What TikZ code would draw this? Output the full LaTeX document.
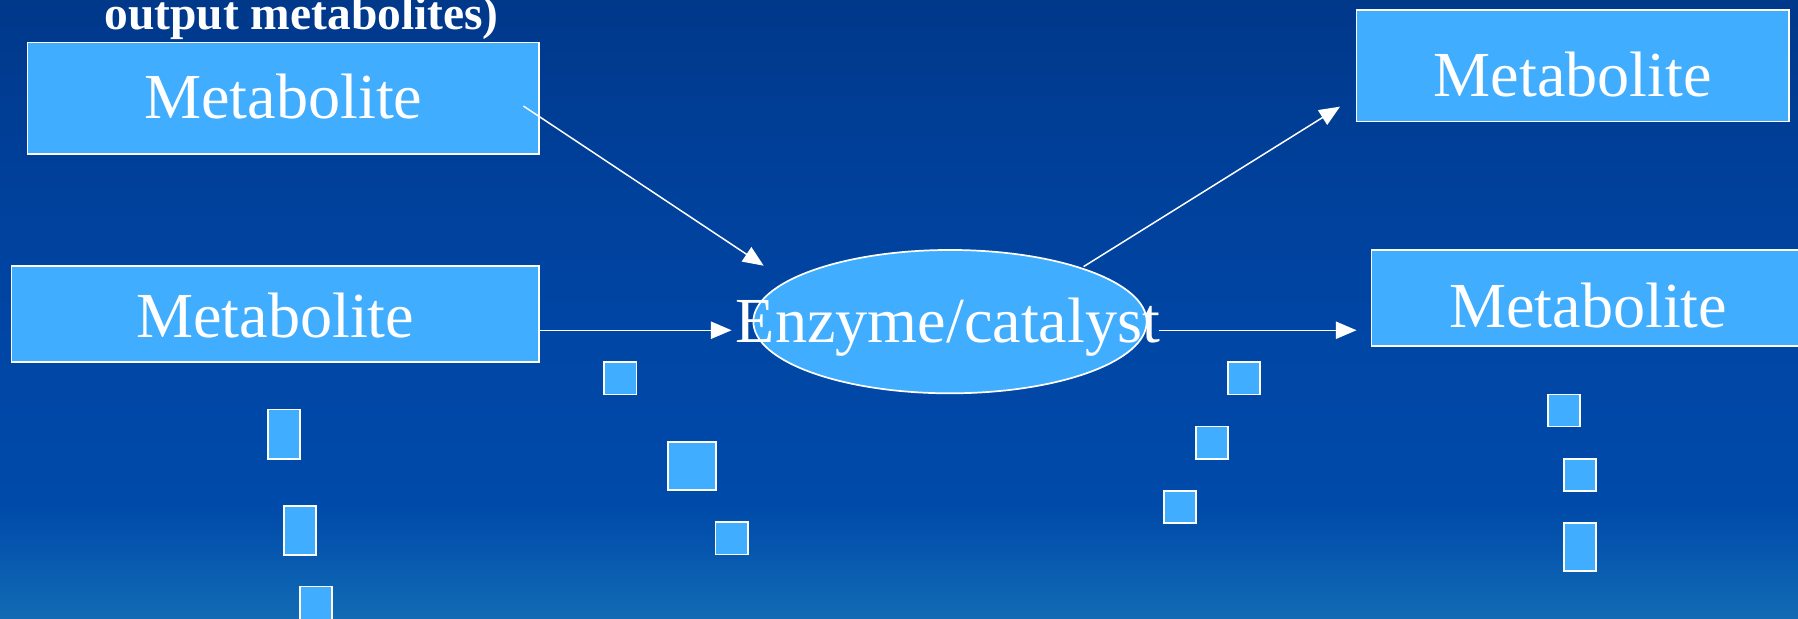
\documentclass[tikz,border=0pt]{standalone}
\usepackage{fontspec}
\setmainfont{Liberation Serif}
\usetikzlibrary{arrows.meta,shapes.geometric,calc}
\definecolor{boxblue}{HTML}{40ADFF}
\definecolor{bgA}{HTML}{00388A}
\definecolor{bgB}{HTML}{00409A}
\definecolor{bgC}{HTML}{0046A5}
\definecolor{bgD}{HTML}{004AA9}
\definecolor{bgE}{HTML}{0656AE}
\definecolor{bgF}{HTML}{0C62B1}
\definecolor{bgG}{HTML}{126BB4}
\pgfdeclareverticalshading{bgshade}{100bp}{color(0bp)=(bgG); color(25bp)=(bgG); color(27.8bp)=(bgF); color(30.6bp)=(bgE); color(34.3bp)=(bgD); color(47.2bp)=(bgC); color(61.1bp)=(bgB); color(75bp)=(bgA); color(100bp)=(bgA)}
\tikzset{
  mbox/.style={draw=white, line width=1.5pt, fill=boxblue, rectangle, inner sep=0pt},
  sq/.style={draw=white, line width=1.5pt, fill=boxblue, rectangle, inner sep=0pt},
  lbl/.style={text=white, inner sep=0pt, font=\fontsize{56}{60}\selectfont},
  ttl/.style={text=white, inner sep=0pt, font=\bfseries\fontsize{41.4}{46}\selectfont},
  arr/.style={draw=white, line width=1.3pt, -{Triangle[length=18pt,width=15pt]}},
}
\begin{document}
\begin{tikzpicture}[x=1pt,y=-1pt]
\useasboundingbox (0,0) rectangle (1568,539.8);
\shade[shading=bgshade] (0,0) rectangle (1568,539.8);
% title fragment
\node[ttl, anchor=base] (title) at (263,26) {output metabolites)};
% metabolite boxes
\node[mbox, minimum width=446pt, minimum height=97pt] (mA) at (247,85.5) {};
\node[lbl, anchor=base] (tA) at ($(mA.center)+(0,17.5)$) {Metabolite};
\node[mbox, minimum width=460pt, minimum height=84pt] (mB) at (240,274) {};
\node[lbl, anchor=base] (tB) at ($(mB.center)+(0,20)$) {Metabolite};
\node[mbox, minimum width=377pt, minimum height=97pt] (mC) at (1371.5,57.5) {};
\node[lbl, anchor=base] (tC) at ($(mC.center)+(0,26.5)$) {Metabolite};
\node[mbox, minimum width=378pt, minimum height=84pt] (mD) at (1385,260) {};
\node[lbl, anchor=base] (tD) at ($(mD.center)+(0,26)$) {Metabolite};
% enzyme
\node[ellipse, draw=white, line width=1.5pt, fill=boxblue, minimum width=343pt, minimum height=125pt, inner sep=0pt] (enz) at (828.5,280.5) {};
\node[lbl, anchor=base] (tenz) at (826.7,299) {Enzyme/catalyst};
% connector end points
\coordinate (a1s) at (456.5,92.5);
\coordinate (a1e) at (666,231.7);
\coordinate (a2s) at (mB.east |- 0,288);
\coordinate (a2e) at (638,288);
\coordinate (a3s) at (1010.5,288);
\coordinate (a3e) at (1183,288);
\coordinate (a4s) at (945,232.5);
\coordinate (a4e) at (1168.6,93);
\draw[arr] (a1s) -- (a1e);
\draw[arr] (a2s) -- (a2e);
\draw[arr] (a3s) -- (a3e);
\draw[arr] (a4s) -- (a4e);
% small squares, left column
\node[sq, minimum width=28pt, minimum height=43pt] (l1) at (247.5,378.5) {};
\node[sq, minimum width=28pt, minimum height=43pt] (l2) at (261.5,462.5) {};
\node[sq, minimum width=28pt, minimum height=43pt] (l3) at (275.5,533) {};
% middle-left group
\node[sq, minimum width=28pt, minimum height=28pt] (m1) at (541,330) {};
\node[sq, minimum width=42pt, minimum height=42pt] (m2) at (603.5,406.5) {};
\node[sq, minimum width=28pt, minimum height=28pt] (m3) at (638,469.5) {};
% middle-right group
\node[sq, minimum width=28pt, minimum height=28pt] (r1) at (1085,330) {};
\node[sq, minimum width=28pt, minimum height=28pt] (r2) at (1057,386) {};
\node[sq, minimum width=28pt, minimum height=28pt] (r3) at (1029,442) {};
% right column
\node[sq, minimum width=28pt, minimum height=28pt] (c1) at (1364,358) {};
\node[sq, minimum width=28pt, minimum height=28pt] (c2) at (1378,414) {};
\node[sq, minimum width=28pt, minimum height=42pt] (c3) at (1378,477) {};
\end{tikzpicture}
\end{document}
